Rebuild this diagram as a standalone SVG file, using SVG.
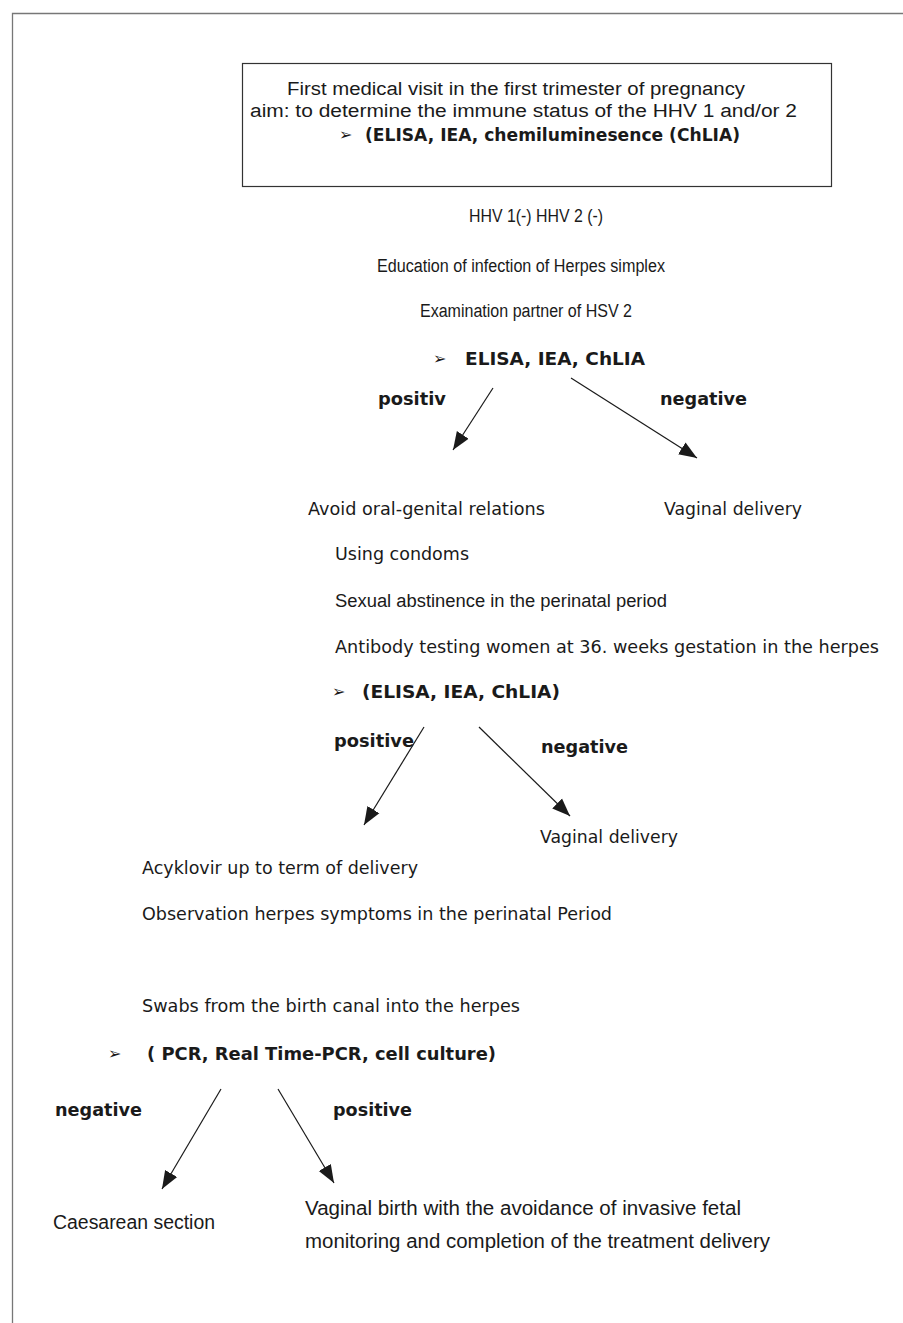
<svg xmlns="http://www.w3.org/2000/svg" width="903" height="1323" viewBox="0 0 903 1323">
<style>
text{font-family:"DejaVu Sans","Verdana",sans-serif;font-size:17px;fill:#1a1a1a}
.n{font-family:"Liberation Sans","Arial",sans-serif;font-size:18px}
.m{font-family:"Liberation Sans","Arial",sans-serif;font-size:18px}
.t{font-family:"Liberation Sans","Arial",sans-serif;font-size:20px}
.b{font-weight:bold}
.g{font-size:16px}
.c{stroke:#1a1a1a;stroke-width:1.2;fill:none}
</style>
<defs>
<marker id="ah" markerUnits="userSpaceOnUse" markerWidth="20" markerHeight="20" viewBox="0 0 20 20" refX="18" refY="10" orient="auto">
<path d="M0,3 L18,10 L0,17 Z" fill="#1a1a1a"/>
</marker>
</defs>
<rect width="903" height="1323" fill="#fff"/>
<path d="M12.5,1323 V13.5 H903" stroke="#777" stroke-width="1.3" fill="none"/>
<g id="start">
<rect x="242.5" y="63.5" width="589" height="123" fill="none" stroke="#333" stroke-width="1.2"/>
<text x="287" y="95" class="n" textLength="458" lengthAdjust="spacingAndGlyphs">First medical visit in the first trimester of pregnancy</text>
<text x="250" y="117" class="n" textLength="547" lengthAdjust="spacingAndGlyphs">aim: to determine the immune status of the HHV 1 and/or 2</text>
<text x="339" y="140" class="g">➢</text>
<text x="365" y="141" class="b" textLength="375" lengthAdjust="spacingAndGlyphs">(ELISA, IEA, chemiluminesence (ChLIA)</text>
</g>
<g id="neg-status">
<text x="469" y="222" class="m" textLength="134" lengthAdjust="spacingAndGlyphs">HHV 1(-) HHV 2 (-)</text>
<text x="377" y="272" class="m" textLength="288" lengthAdjust="spacingAndGlyphs">Education of infection of Herpes simplex</text>
<text x="420" y="317" class="m" textLength="212" lengthAdjust="spacingAndGlyphs">Examination partner of  HSV 2</text>
<text x="433" y="364" class="g">➢</text>
<text x="465" y="365" class="b" textLength="180" lengthAdjust="spacingAndGlyphs">ELISA, IEA, ChLIA</text>
</g>
<g id="lbl1">
<text x="378" y="405" class="b" textLength="68" lengthAdjust="spacingAndGlyphs">positiv</text>
<text x="660" y="405" class="b" textLength="87" lengthAdjust="spacingAndGlyphs">negative</text>
</g>
<g id="partner-pos">
<text x="308" y="515" textLength="237" lengthAdjust="spacingAndGlyphs">Avoid oral-genital relations</text>
<text x="335" y="560" textLength="134" lengthAdjust="spacingAndGlyphs">Using condoms</text>
<text x="335" y="607" class="n" textLength="332" lengthAdjust="spacingAndGlyphs">Sexual abstinence in the perinatal period</text>
<text x="335" y="653" textLength="544" lengthAdjust="spacingAndGlyphs">Antibody testing women at 36. weeks gestation in the herpes</text>
<text x="332" y="697" class="g">➢</text>
<text x="362" y="698" class="b" textLength="198" lengthAdjust="spacingAndGlyphs">(ELISA, IEA, ChLIA)</text>
</g>
<g id="partner-neg">
<text x="664" y="515" textLength="138" lengthAdjust="spacingAndGlyphs">Vaginal delivery</text>
</g>
<g id="lbl2">
<text x="334" y="747" class="b" textLength="80" lengthAdjust="spacingAndGlyphs">positive</text>
<text x="541" y="753" class="b" textLength="87" lengthAdjust="spacingAndGlyphs">negative</text>
</g>
<g id="woman-neg">
<text x="540" y="843" textLength="138" lengthAdjust="spacingAndGlyphs">Vaginal delivery</text>
</g>
<g id="woman-pos">
<text x="142" y="874" textLength="276" lengthAdjust="spacingAndGlyphs">Acyklovir up to term of delivery</text>
<text x="142" y="920" textLength="470" lengthAdjust="spacingAndGlyphs">Observation herpes symptoms in the perinatal Period</text>
<text x="142" y="1012" textLength="378" lengthAdjust="spacingAndGlyphs">Swabs from the birth canal into the herpes</text>
<text x="108" y="1059" class="g">➢</text>
<text x="147" y="1060" class="b" textLength="349" lengthAdjust="spacingAndGlyphs">( PCR, Real Time-PCR, cell culture)</text>
</g>
<g id="lbl3">
<text x="55" y="1116" class="b" textLength="87" lengthAdjust="spacingAndGlyphs">negative</text>
<text x="333" y="1116" class="b" textLength="79" lengthAdjust="spacingAndGlyphs">positive</text>
</g>
<g id="caesarean">
<text x="53" y="1229" class="t" textLength="162" lengthAdjust="spacingAndGlyphs">Caesarean section</text>
</g>
<g id="vaginal-birth">
<text x="305" y="1215" class="t" textLength="436" lengthAdjust="spacingAndGlyphs">Vaginal birth with the avoidance of invasive fetal</text>
<text x="305" y="1248" class="t" textLength="465" lengthAdjust="spacingAndGlyphs">monitoring and completion of the treatment delivery</text>
</g>
<g id="connectors">
<line class="c" x1="493" y1="388" x2="453" y2="450" marker-end="url(#ah)"/>
<line class="c" x1="571" y1="378" x2="697" y2="458" marker-end="url(#ah)"/>
<line class="c" x1="424" y1="727" x2="364" y2="825" marker-end="url(#ah)"/>
<line class="c" x1="479" y1="727" x2="570" y2="816" marker-end="url(#ah)"/>
<line class="c" x1="221" y1="1089" x2="162" y2="1189" marker-end="url(#ah)"/>
<line class="c" x1="278" y1="1089" x2="334" y2="1183" marker-end="url(#ah)"/>
</g>
</svg>
